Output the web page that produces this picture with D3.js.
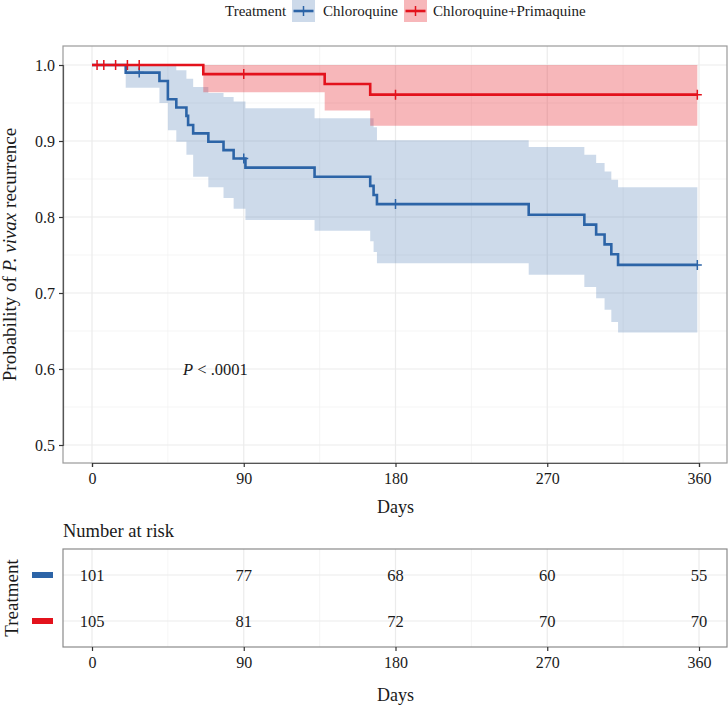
<!DOCTYPE html>
<html>
<head>
<meta charset="utf-8">
<script src="https://cdn.jsdelivr.net/npm/d3@7"></script>
<style>
  html, body { margin: 0; padding: 0; background: #ffffff; }
  svg text { font-family: "Liberation Serif", "Times New Roman", serif; fill: #1a1a1a; }
</style>
</head>
<body>
<svg id="chart" width="728" height="706"></svg>
<script>
// Kaplan-Meier estimates (days, survival, 95% CI)
const chloroTime = [0, 20, 40, 45, 50, 56, 57, 60, 69, 78, 84, 91, 132, 165, 167, 169, 259, 292, 299, 304, 308, 312];
const chloroSurv = [1.0, 0.990, 0.979, 0.955, 0.944, 0.933, 0.921, 0.910, 0.899, 0.888, 0.877, 0.865, 0.853, 0.841, 0.829, 0.817, 0.803, 0.790, 0.777, 0.764, 0.751, 0.737];
const chloroUpper = [1.0, 1.0, 1.0, 1.0, 0.993, 0.982, 0.982, 0.971, 0.963, 0.958, 0.952, 0.943, 0.930, 0.930, 0.918, 0.901, 0.892, 0.882, 0.871, 0.860, 0.849, 0.839];
const chloroLower = [1.0, 0.970, 0.950, 0.914, 0.899, 0.882, 0.882, 0.853, 0.839, 0.825, 0.811, 0.796, 0.782, 0.768, 0.754, 0.739, 0.724, 0.708, 0.693, 0.678, 0.662, 0.648];
const chloroCensor = [28, 90, 180, 359];

const primaTime = [0, 66, 138, 165];
const primaSurv = [1.0, 0.988, 0.975, 0.961];
const primaUpper = [1.0, 1.0, 1.0, 1.0];
const primaLower = [1.0, 0.964, 0.940, 0.920];
const primaCensor = [3, 7, 14, 21, 28, 90, 180, 359];

const endTime = 359;

// number at risk table
const riskTimes = [0, 90, 180, 270, 360];
const chloroRisk = [101, 77, 68, 60, 55];
const primaRisk = [105, 81, 72, 70, 70];

const groupNames = ['Chloroquine', 'Chloroquine+Primaquine'];
const groupColors = ['#2c64a7', '#e3121c'];

const xTicks = [0, 90, 180, 270, 360];
const xMinor = [45, 135, 225, 315];
const yTicks = [0.5, 0.6, 0.7, 0.8, 0.9, 1.0];
const yMinor = [0.55, 0.65, 0.75, 0.85, 0.95];

const svg = d3.select('#chart');
const panel = { left: 63, right: 727, top: 46, bottom: 463 };
const table = { top: 549, bottom: 647 };

const x = d3.scaleLinear().domain([0, 360]).range([92, 699]);
const y = d3.scaleLinear().domain([0.5, 1.0]).range([445, 65]);

const gridColor = '#ebebeb';

// build group records
const makeGroup = (time, surv, upper, lower) => {
    const pts = time.map((t, i) => ({ t, s: surv[i], u: upper[i], l: lower[i] }));
    const last = pts[pts.length - 1];
    pts.push({ t: endTime, s: last.s, u: last.u, l: last.l });
    return pts;
};
const groups = [
    { pts: makeGroup(chloroTime, chloroSurv, chloroUpper, chloroLower), censor: chloroCensor },
    { pts: makeGroup(primaTime, primaSurv, primaUpper, primaLower), censor: primaCensor }
];
const survAt = (pts, t) => {
    let s = pts[0].s;
    pts.forEach((p) => { if (p.t <= t) s = p.s; });
    return s;
};

// ---- main panel ----
const main = svg.append('g');
main.append('rect')
    .attr('x', panel.left).attr('y', panel.top)
    .attr('width', panel.right - panel.left).attr('height', panel.bottom - panel.top)
    .attr('fill', '#ffffff');

main.selectAll('.xminor').data(xMinor).enter().append('line')
    .attr('x1', d => x(d)).attr('x2', d => x(d))
    .attr('y1', panel.top).attr('y2', panel.bottom)
    .attr('stroke', '#f3f3f3').attr('stroke-width', 0.8);
main.selectAll('.yminor').data(yMinor).enter().append('line')
    .attr('x1', panel.left).attr('x2', panel.right)
    .attr('y1', d => y(d)).attr('y2', d => y(d))
    .attr('stroke', '#f3f3f3').attr('stroke-width', 0.8);
main.selectAll('.xmajor').data(xTicks).enter().append('line')
    .attr('x1', d => x(d)).attr('x2', d => x(d))
    .attr('y1', panel.top).attr('y2', panel.bottom)
    .attr('stroke', gridColor).attr('stroke-width', 1.2);
main.selectAll('.ymajor').data(yTicks).enter().append('line')
    .attr('x1', panel.left).attr('x2', panel.right)
    .attr('y1', d => y(d)).attr('y2', d => y(d))
    .attr('stroke', gridColor).attr('stroke-width', 1.2);

const area = d3.area()
    .curve(d3.curveStepAfter)
    .x(d => x(d.t))
    .y0(d => y(d.l))
    .y1(d => y(d.u));
const line = d3.line()
    .curve(d3.curveStepAfter)
    .x(d => x(d.t))
    .y(d => y(d.s));

groups.forEach((g, i) => {
    main.append('path')
        .attr('d', area(g.pts))
        .attr('fill', groupColors[i])
        .attr('fill-opacity', i === 0 ? 0.24 : 0.3);
});
groups.forEach((g, i) => {
    main.append('path')
        .attr('d', line(g.pts))
        .attr('fill', 'none')
        .attr('stroke', groupColors[i])
        .attr('stroke-width', 2.6);
    const marks = main.append('g');
    g.censor.forEach((t) => {
        const cx = x(t);
        const cy = y(survAt(g.pts, t));
        marks.append('path')
            .attr('d', `M${cx - 4.5},${cy}H${cx + 4.5}M${cx},${cy - 5}V${cy + 5}`)
            .attr('stroke', groupColors[i])
            .attr('stroke-width', 1.5);
    });
});

// panel border + axes
main.append('rect')
    .attr('x', panel.left).attr('y', panel.top)
    .attr('width', panel.right - panel.left).attr('height', panel.bottom - panel.top)
    .attr('fill', 'none').attr('stroke', '#9a9a9a').attr('stroke-width', 1.2);

const xAxis = main.append('g')
    .attr('transform', `translate(0,${panel.bottom})`)
    .call(d3.axisBottom(x).tickValues(xTicks).tickSize(4).tickPadding(6).tickFormat(d3.format('d')));
const yAxis = main.append('g')
    .attr('transform', `translate(${panel.left},0)`)
    .call(d3.axisLeft(y).tickValues(yTicks).tickSize(4).tickPadding(4).tickFormat(d3.format('.1f')));
[xAxis, yAxis].forEach((ax) => {
    ax.select('.domain').attr('stroke', '#555555').attr('stroke-width', 1.2);
    ax.selectAll('.tick line').attr('stroke', '#333333').attr('stroke-width', 1.2);
    ax.selectAll('.tick text').attr('font-size', 16).attr('fill', '#1a1a1a')
        .attr('font-family', '"Liberation Serif", serif');
});

main.append('text')
    .attr('x', (92 + 699) / 2).attr('y', 513)
    .attr('text-anchor', 'middle').attr('font-size', 18)
    .text('Days');

const yTitle = main.append('text')
    .attr('transform', `translate(16,${(panel.top + panel.bottom) / 2}) rotate(-90)`)
    .attr('text-anchor', 'middle').attr('font-size', 19);
yTitle.append('tspan').text('Probability of ');
yTitle.append('tspan').attr('font-style', 'italic').text('P. vivax');
yTitle.append('tspan').text(' recurrence');

const pText = main.append('text')
    .attr('x', 183).attr('y', 375).attr('font-size', 16.5);
pText.append('tspan').attr('font-style', 'italic').text('P');
pText.append('tspan').text(' < .0001');

// ---- legend ----
const legend = svg.append('g');
legend.append('text').attr('x', 225).attr('y', 16).attr('font-size', 15).text('Treatment');
const keyX = [292, 404];
const labelX = [323, 433];
groupNames.forEach((name, i) => {
    const k = legend.append('g').attr('transform', `translate(${keyX[i]},0)`);
    k.append('rect').attr('width', 23).attr('height', 22)
        .attr('fill', groupColors[i]).attr('fill-opacity', i === 0 ? 0.24 : 0.3);
    k.append('path')
        .attr('d', 'M1.5,11H21.5')
        .attr('stroke', groupColors[i]).attr('stroke-width', 2.6);
    k.append('path')
        .attr('d', 'M11.5,6V16')
        .attr('stroke', groupColors[i]).attr('stroke-width', 1.5);
    legend.append('text').attr('x', labelX[i]).attr('y', 16).attr('font-size', 15).text(name);
});

// ---- number at risk table ----
const tab = svg.append('g');
tab.append('text').attr('x', 63).attr('y', 537).attr('font-size', 18.5).text('Number at risk');

const rowY = d3.scalePoint().domain(groupNames).range([575, 621]);
tab.append('rect')
    .attr('x', panel.left).attr('y', table.top)
    .attr('width', panel.right - panel.left).attr('height', table.bottom - table.top)
    .attr('fill', '#ffffff');
tab.selectAll('.tminor').data(xMinor).enter().append('line')
    .attr('x1', d => x(d)).attr('x2', d => x(d))
    .attr('y1', table.top).attr('y2', table.bottom)
    .attr('stroke', '#f3f3f3').attr('stroke-width', 0.8);
tab.selectAll('.tmajor').data(xTicks).enter().append('line')
    .attr('x1', d => x(d)).attr('x2', d => x(d))
    .attr('y1', table.top).attr('y2', table.bottom)
    .attr('stroke', gridColor).attr('stroke-width', 1.2);
tab.selectAll('.trow').data(groupNames).enter().append('line')
    .attr('x1', panel.left).attr('x2', panel.right)
    .attr('y1', d => rowY(d)).attr('y2', d => rowY(d))
    .attr('stroke', gridColor).attr('stroke-width', 1.2);

[chloroRisk, primaRisk].forEach((vals, i) => {
    tab.selectAll(`.risk${i}`).data(vals).enter().append('text')
        .attr('x', (d, j) => x(riskTimes[j]))
        .attr('y', rowY(groupNames[i]) + 5.5)
        .attr('text-anchor', 'middle').attr('font-size', 16.5)
        .text(d => d);
    tab.append('rect')
        .attr('x', 32).attr('y', rowY(groupNames[i]) - 3)
        .attr('width', 21).attr('height', 6)
        .attr('fill', groupColors[i]);
});

tab.append('rect')
    .attr('x', panel.left).attr('y', table.top)
    .attr('width', panel.right - panel.left).attr('height', table.bottom - table.top)
    .attr('fill', 'none').attr('stroke', '#8a8a8a').attr('stroke-width', 1.2);

const tAxis = tab.append('g')
    .attr('transform', `translate(0,${table.bottom})`)
    .call(d3.axisBottom(x).tickValues(riskTimes).tickSize(4).tickPadding(6).tickFormat(d3.format('d')));
tAxis.select('.domain').remove();
tAxis.selectAll('.tick line').attr('stroke', '#333333').attr('stroke-width', 1.2);
tAxis.selectAll('.tick text').attr('font-size', 16).attr('fill', '#1a1a1a')
    .attr('font-family', '"Liberation Serif", serif');

tab.append('text')
    .attr('x', (92 + 699) / 2).attr('y', 701)
    .attr('text-anchor', 'middle').attr('font-size', 18)
    .text('Days');
tab.append('text')
    .attr('transform', `translate(18,${(table.top + table.bottom) / 2}) rotate(-90)`)
    .attr('text-anchor', 'middle').attr('font-size', 19)
    .text('Treatment');
</script>
</body>
</html>
